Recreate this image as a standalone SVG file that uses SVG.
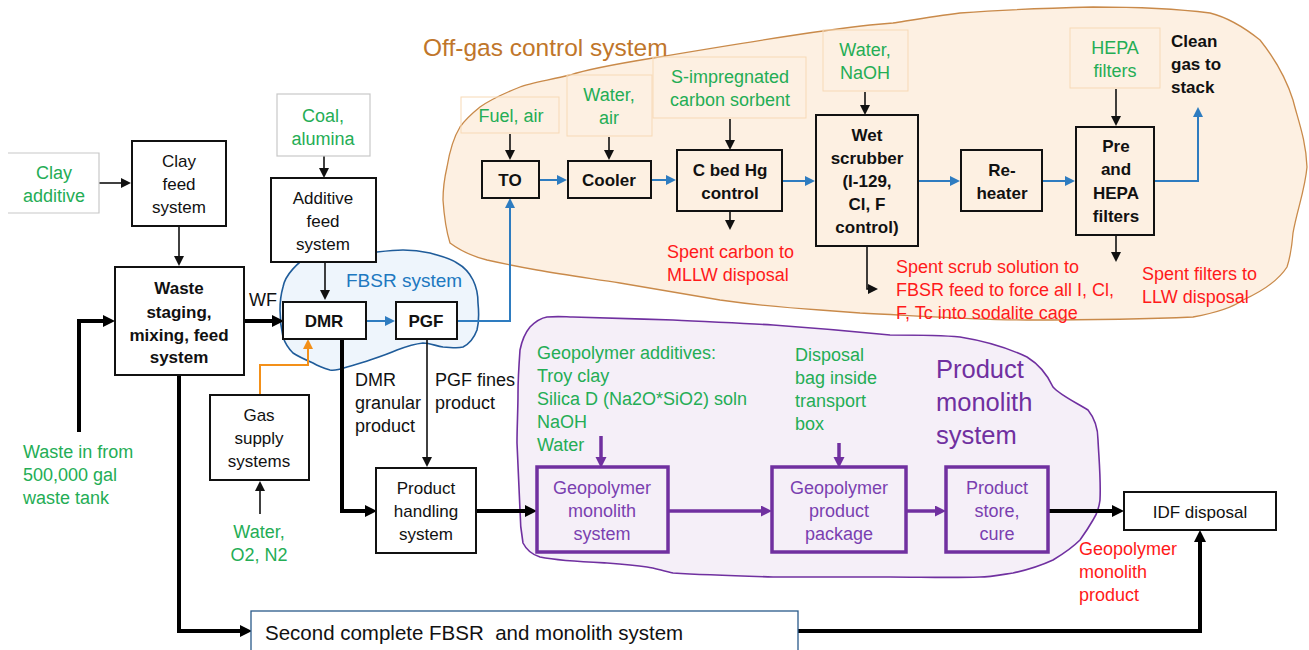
<svg xmlns="http://www.w3.org/2000/svg" width="1309" height="650" viewBox="0 0 1309 650">
  <style>
    text { font-family: "Liberation Sans", Arial, sans-serif; }
    .t { font-size: 17px; text-anchor: middle; fill: #111; }
    .tb { font-size: 17px; text-anchor: middle; fill: #111; font-weight: bold; }
    .lb { font-size: 18px; fill: #111; }
    .g { font-size: 18px; fill: #24ad55; }
    .gm { font-size: 18px; fill: #24ad55; text-anchor: middle; }
    .r { font-size: 18px; fill: #ff1a1a; }
    .pt { font-size: 18px; text-anchor: middle; fill: #7a3fb0; }
    .box { fill: #fff; stroke: #111; stroke-width: 2; }
    .obox { fill: none; stroke: #111; stroke-width: 2; }
    .pbox { fill: none; stroke: #7030a0; stroke-width: 3.5; }
    .inbox { fill: none; stroke: #f7d9b6; stroke-width: 1; }
    .gbox { fill: #fff; stroke: #c8c8c8; stroke-width: 1.2; }
    .thin { fill: none; stroke: #111; stroke-width: 1.6; }
    .thick { fill: none; stroke: #000; stroke-width: 4; }
    .blue { fill: none; stroke: #2e7cc0; stroke-width: 2; }
    .orange { fill: none; stroke: #f39019; stroke-width: 2; }
    .purple { fill: none; stroke: #7030a0; stroke-width: 3.5; }
  </style>
  <defs>
    <marker id="ak" markerUnits="userSpaceOnUse" markerWidth="11" markerHeight="11" refX="4" refY="5" orient="auto">
      <path d="M0,0 L10,5 L0,10 z" fill="#111"/>
    </marker>
    <marker id="akT" markerUnits="userSpaceOnUse" markerWidth="13" markerHeight="13" refX="5" refY="6" orient="auto">
      <path d="M0,0 L12,6 L0,12 z" fill="#000"/>
    </marker>
    <marker id="ab" markerUnits="userSpaceOnUse" markerWidth="11" markerHeight="11" refX="4" refY="5" orient="auto">
      <path d="M0,0 L10,5 L0,10 z" fill="#2e7cc0"/>
    </marker>
    <marker id="ao" markerUnits="userSpaceOnUse" markerWidth="11" markerHeight="11" refX="4" refY="5" orient="auto">
      <path d="M0,0 L10,5 L0,10 z" fill="#f39019"/>
    </marker>
    <marker id="ap" markerUnits="userSpaceOnUse" markerWidth="12" markerHeight="12" refX="4" refY="5.5" orient="auto">
      <path d="M0,0 L11,5.5 L0,11 z" fill="#7030a0"/>
    </marker>
  </defs>

  <rect width="1309" height="650" fill="#fff"/>

  <!-- system outlines -->
  <g id="offgas-region">
    <path d="M870,25 C820,30 730,45 653,58 C610,65 585,70 570,75 C550,80 530,83 520,87 C500,95 490,100 480,107 C470,115 465,120 460,127 C452,140 449,155 447,167 C444,180 443,190 443,200 C444,215 446,230 450,243 C462,252 475,257 487,260 C505,264 520,267 537,270 C565,275 595,279 620,283 C655,289 690,295 720,300 C755,305 790,308 820,310 C835,311 848,312 860,313 C920,316 975,320 1027,320 C1080,320 1150,319 1193,317 C1215,313 1232,308 1243,300 C1265,290 1280,278 1287,267 C1291,255 1292,245 1293,233 C1297,210 1305,190 1307,167 C1306,140 1298,120 1293,100 C1285,75 1272,55 1260,40 C1245,28 1230,18 1210,13 C1170,8 1130,7 1093,7 C1050,8 1000,10 960,13 C935,16 912,20 893,23 Z" fill="#fdf0e2" stroke="#c98a4a" stroke-width="1.3"/>
    <text x="423" y="56" font-size="24.5" fill="#c0762a">Off-gas control system</text>
  </g>

  <g id="fbsr-region">
    <path d="M283,287 C285,275 298,262 310,255 C322,252 335,254 347,253 C357,252 367,252 377,252 C386,251 395,250 403,250 C413,250 421,251 430,253 C440,256 450,258 457,263 C466,268 470,274 473,280 C477,288 478,296 478,303 C479,313 479,322 477,330 C474,338 469,344 463,347 C456,349 450,347 443,347 C436,346 430,343 423,343 C414,344 405,347 397,350 C388,354 379,357 370,360 C362,363 354,365 347,367 C341,369 336,371 330,370 C323,368 318,366 313,363 C306,360 299,357 293,353 C288,348 285,343 283,337 C281,328 280,320 280,310 C280,302 281,294 283,287 Z" fill="#eef5fc" stroke="#1f5c9a" stroke-width="1.6"/>
    <text x="346" y="287" font-size="19" fill="#2078c0">FBSR system</text>
  </g>

  <g id="monolith-region">
    <path d="M547,317 C560,316 566,317 573,317 C610,318 640,319 673,320 C710,322 740,323 773,325 C815,328 850,331 890,335 C915,335 940,335 960,337 C985,341 1008,348 1027,357 C1040,365 1048,376 1053,387 C1060,395 1075,402 1088,410 C1096,420 1098,430 1098,440 C1099,460 1101,480 1100,500 C1099,508 1097,514 1093,520 C1089,527 1085,533 1080,540 C1072,548 1063,554 1053,560 C1040,566 1027,570 1013,573 C1000,575 990,577 980,577 C950,578 920,577 890,577 C850,577 810,577 773,577 C740,576 705,575 673,573 C663,571 655,568 647,567 C633,565 620,564 607,563 C585,562 560,561 540,557 C530,554 526,549 523,543 C521,532 520,521 520,510 C519,487 518,465 517,443 C517,426 518,410 518,393 C518,378 519,364 520,350 C522,340 525,333 530,327 C536,321 541,318 547,317 Z" fill="#f5eff8" stroke="#7030a0" stroke-width="1.6"/>
    <text x="936" y="378" font-size="25.5" fill="#7030a0">Product</text>
    <text x="936" y="411" font-size="25.5" fill="#7030a0">monolith</text>
    <text x="936" y="444" font-size="25.5" fill="#7030a0">system</text>
  </g>

  <!-- connectors -->
  <g id="connectors">
    <path class="thin" d="M99,183 H125" marker-end="url(#ak)"/>
    <path class="thin" d="M179,226 V260" marker-end="url(#ak)"/>
    <path class="thick" d="M79,432 V321 H108" marker-end="url(#akT)"/>
    <path class="thick" d="M244,321 H277" marker-end="url(#akT)"/>
    <path class="thin" d="M324,156 V172" marker-end="url(#ak)"/>
    <path class="thin" d="M325,262 V294" marker-end="url(#ak)"/>
    <path class="blue" d="M366,321 H389" marker-end="url(#ab)"/>
    <path class="blue" d="M457,321 H510 V204" marker-end="url(#ab)"/>
    <path class="orange" d="M260,395 V365 H308 V345" marker-end="url(#ao)"/>
    <path class="thin" d="M260,514 V487" marker-end="url(#ak)"/>
    <path class="thick" d="M342,339 V511 H370" marker-end="url(#akT)"/>
    <path class="thin" d="M427,339 V461" marker-end="url(#ak)"/>
    <path class="thick" d="M477,511 H530" marker-end="url(#akT)"/>
    <path class="thick" d="M179,375 V631 H245" marker-end="url(#akT)"/>
    <path class="thick" d="M798,631 H1200 V537" marker-end="url(#akT)"/>
    <path class="purple" d="M601,436 V461" stroke-width="1.8" marker-end="url(#ap)"/>
    <path class="purple" d="M668,511 H765" marker-end="url(#ap)"/>
    <path class="purple" d="M839,443 V461" stroke-width="1.8" marker-end="url(#ap)"/>
    <path class="purple" d="M906,511 H939" marker-end="url(#ap)"/>
    <path class="thick" d="M1048,511 H1117" marker-end="url(#akT)"/>
    <!-- off-gas train -->
    <path class="thin" d="M510,134 V154" marker-end="url(#ak)"/>
    <path class="thin" d="M609,137 V154" marker-end="url(#ak)"/>
    <path class="thin" d="M730,119 V144" marker-end="url(#ak)"/>
    <path class="thin" d="M865,92 V109" marker-end="url(#ak)"/>
    <path class="thin" d="M1116,89 V120" marker-end="url(#ak)"/>
    <path class="blue" d="M539,180 H561" marker-end="url(#ab)"/>
    <path class="blue" d="M651,180 H670" marker-end="url(#ab)"/>
    <path class="blue" d="M782,181 H809" marker-end="url(#ab)"/>
    <path class="blue" d="M918,181 H954" marker-end="url(#ab)"/>
    <path class="blue" d="M1042,181 H1069" marker-end="url(#ab)"/>
    <path class="blue" d="M1154,181 H1198 V113" marker-end="url(#ab)"/>
    <path class="thin" d="M730,211 V224" marker-end="url(#ak)"/>
    <path class="thin" d="M867,246 V289 H872" marker-end="url(#ak)"/>
    <path class="thin" d="M1116,235 V256" marker-end="url(#ak)"/>
  </g>

  <!-- feed side -->
  <g id="clay-additive">
    <path class="gbox" d="M8,153 H99 V213 H8"/>
    <text class="gm" x="54" y="179">Clay</text>
    <text class="gm" x="54" y="202">additive</text>
  </g>
  <g id="clay-feed">
    <rect class="box" x="132" y="141" width="94" height="85"/>
    <text class="t" x="179" y="167">Clay</text>
    <text class="t" x="179" y="190">feed</text>
    <text class="t" x="179" y="213">system</text>
  </g>
  <g id="waste-staging">
    <rect class="box" x="115" y="267" width="129" height="108"/>
    <text class="tb" x="179" y="294">Waste</text>
    <text class="tb" x="179" y="318">staging,</text>
    <text class="tb" x="179" y="341">mixing, feed</text>
    <text class="tb" x="179" y="363">system</text>
  </g>
  <g id="waste-in">
    <text class="g" x="23" y="458">Waste in from</text>
    <text class="g" x="23" y="481">500,000 gal</text>
    <text class="g" x="23" y="504">waste tank</text>
  </g>
  <g id="wf-label">
    <text class="lb" x="249" y="306">WF</text>
  </g>
  <g id="coal-alumina">
    <rect class="gbox" x="277" y="94" width="93" height="62"/>
    <text class="gm" x="323" y="122">Coal,</text>
    <text class="gm" x="323" y="145">alumina</text>
  </g>
  <g id="additive-feed">
    <rect class="box" x="271" y="178" width="105" height="84"/>
    <text class="t" x="323" y="204">Additive</text>
    <text class="t" x="323" y="227">feed</text>
    <text class="t" x="323" y="250">system</text>
  </g>
  <g id="dmr">
    <rect class="box" x="283" y="302" width="83" height="37"/>
    <text class="tb" x="324" y="327">DMR</text>
  </g>
  <g id="pgf">
    <rect class="box" x="396" y="302" width="61" height="37"/>
    <text class="tb" x="426" y="327">PGF</text>
  </g>
  <g id="gas-supply">
    <rect class="box" x="210" y="395" width="99" height="85"/>
    <text class="t" x="259" y="421">Gas</text>
    <text class="t" x="259" y="444">supply</text>
    <text class="t" x="259" y="467">systems</text>
    <text class="gm" x="259" y="538">Water,</text>
    <text class="gm" x="259" y="561">O2, N2</text>
  </g>
  <g id="product-labels">
    <text class="lb" x="355" y="386">DMR</text>
    <text class="lb" x="355" y="409">granular</text>
    <text class="lb" x="355" y="432">product</text>
    <text class="lb" x="435" y="386">PGF fines</text>
    <text class="lb" x="435" y="409">product</text>
  </g>
  <g id="product-handling">
    <rect class="box" x="376" y="468" width="100" height="85"/>
    <text class="t" x="426" y="494">Product</text>
    <text class="t" x="426" y="517">handling</text>
    <text class="t" x="426" y="540">system</text>
  </g>
  <g id="second-system">
    <rect x="251" y="611" width="547" height="50" fill="#fff" stroke="#2a5a8a" stroke-width="1.3"/>
    <text x="265" y="640" font-size="20.5" fill="#111">Second complete FBSR&#160; and monolith system</text>
  </g>
  <g id="idf-disposal">
    <rect class="box" x="1124" y="492" width="152" height="38"/>
    <text class="t" x="1200" y="518">IDF disposal</text>
    <text class="r" x="1079" y="555">Geopolymer</text>
    <text class="r" x="1079" y="578">monolith</text>
    <text class="r" x="1079" y="601">product</text>
  </g>

  <!-- monolith line -->
  <g id="geopolymer-additives">
    <text class="g" x="537" y="359">Geopolymer additives:</text>
    <text class="g" x="537" y="382">Troy clay</text>
    <text class="g" x="537" y="405">Silica D (Na2O*SiO2) soln</text>
    <text class="g" x="537" y="428">NaOH</text>
    <text class="g" x="537" y="451">Water</text>
  </g>
  <g id="geopolymer-monolith">
    <rect class="pbox" x="537" y="467" width="131" height="85"/>
    <text class="pt" x="602" y="494">Geopolymer</text>
    <text class="pt" x="602" y="517">monolith</text>
    <text class="pt" x="602" y="540">system</text>
  </g>
  <g id="disposal-bag">
    <text class="g" x="795" y="361">Disposal</text>
    <text class="g" x="795" y="384">bag inside</text>
    <text class="g" x="795" y="407">transport</text>
    <text class="g" x="795" y="430">box</text>
  </g>
  <g id="geopolymer-package">
    <rect class="pbox" x="772" y="467" width="134" height="85"/>
    <text class="pt" x="839" y="494">Geopolymer</text>
    <text class="pt" x="839" y="517">product</text>
    <text class="pt" x="839" y="540">package</text>
  </g>
  <g id="product-store">
    <rect class="pbox" x="946" y="467" width="102" height="85"/>
    <text class="pt" x="997" y="494">Product</text>
    <text class="pt" x="997" y="517">store,</text>
    <text class="pt" x="997" y="540">cure</text>
  </g>

  <!-- off-gas train -->
  <g id="fuel-air">
    <rect class="inbox" x="461" y="97" width="98" height="36"/>
    <text class="gm" x="511" y="122">Fuel, air</text>
  </g>
  <g id="water-air">
    <rect class="inbox" x="567" y="75" width="85" height="61"/>
    <text class="gm" x="609" y="101">Water,</text>
    <text class="gm" x="609" y="124">air</text>
  </g>
  <g id="carbon-sorbent">
    <rect class="inbox" x="653" y="57" width="153" height="61"/>
    <text class="gm" x="730" y="83">S-impregnated</text>
    <text class="gm" x="730" y="106">carbon sorbent</text>
  </g>
  <g id="water-naoh">
    <rect class="inbox" x="823" y="30" width="85" height="61"/>
    <text class="gm" x="865" y="56">Water,</text>
    <text class="gm" x="865" y="79">NaOH</text>
  </g>
  <g id="hepa-input">
    <rect class="inbox" x="1070" y="28" width="90" height="60"/>
    <text class="gm" x="1115" y="54">HEPA</text>
    <text class="gm" x="1115" y="77">filters</text>
  </g>
  <g id="clean-gas">
    <text x="1171" y="47" font-size="17" font-weight="bold" fill="#111">Clean</text>
    <text x="1171" y="70" font-size="17" font-weight="bold" fill="#111">gas to</text>
    <text x="1171" y="93" font-size="17" font-weight="bold" fill="#111">stack</text>
  </g>
  <g id="to">
    <rect class="obox" x="482" y="161" width="57" height="37"/>
    <text class="tb" x="510" y="186">TO</text>
  </g>
  <g id="cooler">
    <rect class="obox" x="568" y="161" width="83" height="37"/>
    <text class="tb" x="609" y="186">Cooler</text>
  </g>
  <g id="c-bed">
    <rect class="obox" x="677" y="150" width="105" height="61"/>
    <text class="tb" x="730" y="176">C bed Hg</text>
    <text class="tb" x="730" y="199">control</text>
    <text class="r" x="667" y="258">Spent carbon to</text>
    <text class="r" x="667" y="281">MLLW disposal</text>
  </g>
  <g id="wet-scrubber">
    <rect class="obox" x="816" y="115" width="102" height="131"/>
    <text class="tb" x="867" y="141">Wet</text>
    <text class="tb" x="867" y="164">scrubber</text>
    <text class="tb" x="867" y="187">(I-129,</text>
    <text class="tb" x="867" y="210">Cl, F</text>
    <text class="tb" x="867" y="233">control)</text>
    <text class="r" x="896" y="273">Spent scrub solution to</text>
    <text class="r" x="896" y="296">FBSR feed to force all I, Cl,</text>
    <text class="r" x="896" y="319">F, Tc into sodalite cage</text>
  </g>
  <g id="reheater">
    <rect class="obox" x="961" y="150" width="81" height="61"/>
    <text class="tb" x="1002" y="176">Re-</text>
    <text class="tb" x="1002" y="199">heater</text>
  </g>
  <g id="hepa-filters">
    <rect class="obox" x="1076" y="127" width="78" height="108"/>
    <text class="tb" x="1116" y="152">Pre</text>
    <text class="tb" x="1116" y="175">and</text>
    <text class="tb" x="1116" y="199">HEPA</text>
    <text class="tb" x="1116" y="222">filters</text>
    <text class="r" x="1142" y="280">Spent filters to</text>
    <text class="r" x="1142" y="303">LLW disposal</text>
  </g>
</svg>
